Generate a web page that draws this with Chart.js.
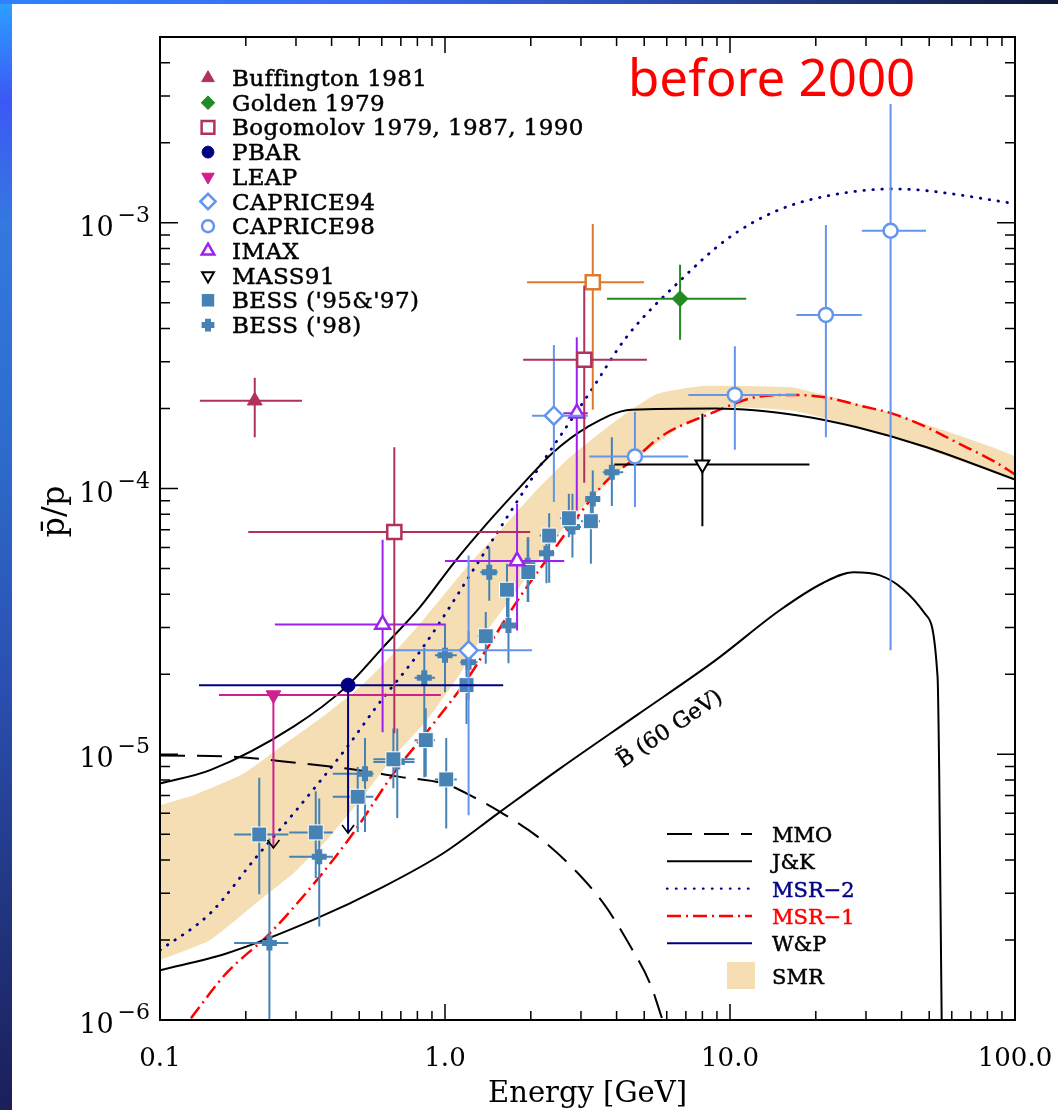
<!DOCTYPE html>
<html lang="en">
<head>
<meta charset="UTF-8">
<title>Antiproton / proton ratio</title>
<script src="https://cdn.jsdelivr.net/npm/chart.js"></script>
<style>
    html, body { margin: 0; padding: 0; }
    body {
        width: 1058px;
        height: 1110px;
        position: relative;
        overflow: hidden;
        background: linear-gradient(180deg, #2aa2ff 0%, #3d58f5 9%, #3478e0 20%, #2d6ccc 40%, #2a4fb0 62%, #21357f 82%, #1b1f5a 100%);
    }
    .topband {
        position: absolute; left: 0; top: 0; right: 0; height: 4px;
        background: linear-gradient(90deg, #2d82ff 0%, #3a6cf2 35%, #2a4aa8 65%, #0f1838 100%);
    }
    .sheet { position: absolute; left: 12px; top: 4px; right: 0; bottom: 0; background: #fff; }
    #chart { position: absolute; left: 0; top: 0; }
</style>
</head>
<body>
<div class="topband"></div>
<div class="sheet"></div>
<canvas id="chart" width="1058" height="1110"></canvas>
<script>
// measurements: [energy GeV, pbar/p, energy low, energy high, ratio low, ratio high]
const buffington = [[0.215, 2.14e-4, 0.138, 0.315, 1.56e-4, 2.61e-4]];
const golden = [[6.68, 5.18e-4, 3.70, 11.4, 3.63e-4, 6.95e-4]];
const bogomolov = [
    [0.664, 6.86e-5, 0.204, 1.99, 1.2e-5, 1.43e-4],
    [3.08, 3.05e-4, 1.88, 5.11, 1.05e-4, 5.80e-4]
];
const bogomolov90 = [[3.30, 5.97e-4, 1.94, 4.99, 1.98e-4, 9.9e-4]];
const pbar = [[0.457, 1.82e-5, 0.137, 1.60, 5.05e-6, 1.82e-5]];
const leap = [[0.25, 1.67e-5, 0.161, 0.967, 4.44e-6, 1.67e-5]];
const caprice94 = [
    [2.41, 1.88e-4, 2.02, 3.17, 8.89e-5, 3.47e-4],
    [1.21, 2.46e-5, 0.606, 2.02, 5.9e-6, 5.6e-5]
];
const caprice98 = [
    [4.64, 1.32e-4, 3.21, 7.14, 8.51e-5, 1.94e-4],
    [10.4, 2.25e-4, 7.14, 17.1, 1.40e-4, 3.43e-4],
    [21.7, 4.50e-4, 17.1, 29.0, 1.56e-4, 9.8e-4],
    [36.6, 9.33e-4, 29.0, 48.7, 2.46e-5, 2.8e-3]
];
const imax = [
    [0.604, 3.08e-5, 0.253, 1.0, 1.21e-5, 6.41e-5],
    [1.79, 5.33e-5, 1.0, 2.62, 2.92e-5, 8.75e-5],
    [2.90, 1.92e-4, 2.60, 3.17, 8.26e-5, 3.71e-4]
];
const mass91 = [[8.0, 1.23e-4, 3.93, 19.0, 7.21e-5, 1.91e-4]];
const bess9597 = [
    [0.223, 4.99e-6, 0.182, 0.282, 2.97e-6, 8.15e-6],
    [0.352, 5.08e-6, 0.284, 0.404, 3.42e-6, 7.26e-6],
    [0.494, 6.92e-6, 0.404, 0.561, 5.1e-6, 8.96e-6],
    [0.659, 9.57e-6, 0.561, 0.782, 7.45e-6, 1.25e-5],
    [0.856, 1.13e-5, 0.782, 0.922, 8.22e-6, 1.49e-5],
    [1.01, 8.04e-6, 0.922, 1.10, 5.26e-6, 1.15e-5],
    [1.19, 1.82e-5, 1.12, 1.27, 1.3e-5, 2.6e-5],
    [1.39, 2.78e-5, 1.30, 1.49, 2.19e-5, 3.43e-5],
    [1.65, 4.16e-5, 1.57, 1.76, 3.28e-5, 5.21e-5],
    [1.96, 4.85e-5, 1.85, 2.08, 3.74e-5, 6.56e-5],
    [2.32, 6.65e-5, 2.15, 2.50, 4.42e-5, 8.07e-5],
    [2.72, 7.73e-5, 2.53, 2.96, 6.56e-5, 9.55e-5],
    [3.25, 7.53e-5, 3.0, 3.5, 5.21e-5, 9.27e-5]
];
const bess98 = [
    [0.242, 1.95e-6, 0.182, 0.282, 5e-7, 4.82e-6],
    [0.362, 4.11e-6, 0.284, 0.404, 2.25e-6, 6.81e-6],
    [0.524, 8.45e-6, 0.404, 0.561, 5.1e-6, 1.15e-5],
    [0.680, 9.35e-6, 0.561, 0.782, 5.75e-6, 1.25e-5],
    [0.846, 1.94e-5, 0.782, 0.922, 8.2e-6, 2.51e-5],
    [1.0, 2.36e-5, 0.922, 1.10, 1.71e-5, 3.1e-5],
    [1.21, 2.22e-5, 1.13, 1.30, 1.6e-5, 2.9e-5],
    [1.43, 4.84e-5, 1.33, 1.53, 3.78e-5, 6.0e-5],
    [1.67, 3.05e-5, 1.57, 1.77, 2.2e-5, 4.2e-5],
    [1.95, 5.14e-5, 1.84, 2.07, 3.74e-5, 6.56e-5],
    [2.27, 5.71e-5, 2.14, 2.42, 4.4e-5, 6.2e-5],
    [2.80, 7.16e-5, 2.61, 3.0, 5.5e-5, 9.55e-5],
    [3.30, 9.14e-5, 3.12, 3.50, 8.07e-5, 1.17e-4],
    [3.85, 1.15e-4, 3.58, 4.22, 8.6e-5, 1.56e-4]
];

// model curves: [energy GeV, pbar/p]
const mmo = [[0.1, 9.9e-6], [0.186, 9.77e-6], [0.302, 9.28e-6], [0.452, 8.83e-6], [0.695, 8.22e-6],
    [1.01, 7.71e-6], [1.26, 6.9e-6], [1.56, 6.07e-6], [2.15, 4.83e-6], [2.86, 3.66e-6], [3.63, 2.71e-6],
    [4.45, 1.91e-6], [5.26, 1.36e-6], [5.80, 1.0e-6], [6.05, 8.8e-7]];
const jkUpper = [[0.1, 7.76e-6], [0.15, 8.71e-6], [0.294, 1.27e-5], [0.457, 1.82e-5], [0.607, 2.53e-5],
    [0.817, 3.58e-5], [1.068, 5.21e-5], [1.40, 7.36e-5], [1.83, 1.01e-4], [2.40, 1.37e-4], [3.15, 1.70e-4],
    [4.51, 1.98e-4], [8.95, 2.00e-4], [17.6, 1.88e-4], [27.9, 1.70e-4], [49.0, 1.43e-4], [100, 1.08e-4]];
const jkLower = [[0.1, 1.54e-6], [0.171, 1.78e-6], [0.345, 2.38e-6], [0.607, 3.17e-6], [0.986, 4.24e-6],
    [1.56, 6.07e-6], [2.53, 8.83e-6], [4.74, 1.41e-5], [8.86, 2.25e-5], [15.0, 3.49e-5], [21.2, 4.41e-5],
    [27.1, 4.84e-5], [33.6, 4.71e-5], [40.5, 4.18e-5], [48.3, 3.38e-5], [53.5, 1.95e-5], [54.2, 8.58e-6],
    [55.3, 1e-6], [55.5, 5e-7]];
const msr2 = [[0.1, 1.83e-6], [0.15, 2.52e-6], [0.218, 4.11e-6], [0.294, 5.98e-6], [0.452, 1.06e-5],
    [0.575, 1.51e-5], [0.829, 2.49e-5], [1.33, 5.43e-5], [2.15, 1.21e-4], [3.24, 2.32e-4], [4.33, 3.71e-4],
    [6.68, 6.05e-4], [9.78, 8.69e-4], [14.6, 1.11e-3], [21.8, 1.26e-3], [37.4, 1.34e-3], [49.0, 1.32e-3],
    [100, 1.18e-3]];
const msr1 = [[0.113, 8.5e-7], [0.127, 1e-6], [0.171, 1.50e-6], [0.243, 2.12e-6], [0.355, 3.36e-6],
    [0.476, 5.04e-6], [0.659, 8.45e-6], [0.909, 1.30e-5], [1.19, 1.90e-5], [1.44, 2.61e-5], [1.83, 3.90e-5],
    [2.40, 5.85e-5], [2.97, 8.03e-5], [3.70, 1.07e-4], [4.70, 1.31e-4], [5.68, 1.56e-4], [8.51, 1.91e-4],
    [12.7, 2.22e-4], [16.7, 2.25e-4], [21.8, 2.20e-4], [28.6, 2.05e-4], [37.4, 1.91e-4], [49.0, 1.70e-4],
    [64.1, 1.47e-4], [83.9, 1.27e-4], [100, 1.13e-4]];
const smrUpper = [[0.1, 6.43e-6], [0.131, 7.01e-6], [0.196, 8.45e-6], [0.257, 1.04e-5], [0.384, 1.42e-5],
    [0.503, 1.79e-5], [0.624, 2.25e-5], [0.817, 3.10e-5], [1.22, 5.21e-5], [1.60, 7.14e-5], [2.09, 9.82e-5],
    [2.74, 1.31e-4], [3.58, 1.65e-4], [4.45, 1.96e-4], [5.54, 2.27e-4], [8.07, 2.43e-4], [16.7, 2.40e-4],
    [19.6, 2.30e-4], [37.4, 1.91e-4], [100, 1.32e-4]];
const smrLower = [[0.1, 1.68e-6], [0.15, 2.0e-6], [0.224, 2.83e-6], [0.294, 3.57e-6], [0.384, 4.75e-6],
    [0.503, 6.71e-6], [0.659, 9.77e-6], [0.862, 1.34e-5], [1.13, 2.01e-5], [1.33, 2.69e-5], [1.83, 4.28e-5],
    [2.40, 6.38e-5], [3.15, 8.85e-5], [4.12, 1.17e-4], [5.68, 1.51e-4], [7.22, 1.80e-4], [9.2, 2.02e-4],
    [16.7, 1.96e-4], [37.4, 1.56e-4], [100, 1.09e-4]];

const xTicks = [0.1, 1, 10, 100];
const xTickLabels = ['0.1', '1.0', '10.0', '100.0'];
const yDecades = [-6, -5, -4, -3];

const SERIF = '"DejaVu Serif", "Liberation Serif", serif';
const X_MIN = 0.1, X_MAX = 100, Y_MIN = 1e-6, Y_MAX = 5e-3;

function withErrors(rows) {
    return rows.map(([x, y, xLo, xHi, yLo, yHi]) => ({ x, y, xLo, xHi, yLo, yHi }));
}
function xy(rows) {
    return rows.map(([x, y]) => ({ x, y }));
}

function markers(label, rows, opts) {
    return Object.assign({
        label: label,
        data: withErrors(rows),
        showLine: false,
        order: 1,
        pointRotation: 0,
        pointBorderWidth: 2,
        inLegend: true
    }, opts);
}

function curve(label, rows, color, dash, width, extra) {
    return Object.assign({
        label: label,
        data: xy(rows),
        showLine: true,
        borderColor: color,
        borderWidth: width,
        borderDash: dash,
        pointRadius: 0,
        fill: false,
        cubicInterpolationMode: 'monotone',
        order: 5
    }, extra || {});
}

const datasets = [
    markers('Buffington 1981', buffington, { pointStyle: 'triangle', pointRadius: 8.5, pointBackgroundColor: '#b03060', pointBorderColor: '#b03060', pointBorderWidth: 1, barColor: '#b03060' }),
    markers('Golden 1979', golden, { pointStyle: 'rectRot', pointRadius: 8, pointBackgroundColor: '#228b22', pointBorderColor: '#228b22', pointBorderWidth: 1, barColor: '#228b22' }),
    markers('Bogomolov 1979, 1987, 1990', bogomolov, { pointStyle: 'rect', pointRadius: 10, pointBackgroundColor: '#ffffff', pointBorderColor: '#b03060', pointBorderWidth: 2.5, barColor: '#b03060' }),
    markers('Bogomolov 1990', bogomolov90, { pointStyle: 'rect', pointRadius: 10, pointBackgroundColor: '#ffffff', pointBorderColor: '#dd7a30', pointBorderWidth: 2.5, barColor: '#dd7a30', inLegend: false }),
    markers('PBAR', pbar, { pointStyle: 'circle', pointRadius: 7, pointBackgroundColor: '#000080', pointBorderColor: '#000080', pointBorderWidth: 1, barColor: '#000080', arrow: true }),
    markers('LEAP', leap, { pointStyle: 'triangle', pointRotation: 180, pointRadius: 8.5, pointBackgroundColor: '#d02090', pointBorderColor: '#d02090', pointBorderWidth: 1, barColor: '#d02090', arrow: true }),
    markers('CAPRICE94', caprice94, { pointStyle: 'rectRot', pointRadius: 9, pointBackgroundColor: '#ffffff', pointBorderColor: '#6495ed', pointBorderWidth: 2.5, barColor: '#6495ed' }),
    markers('CAPRICE98', caprice98, { pointStyle: 'circle', pointRadius: 7, pointBackgroundColor: '#ffffff', pointBorderColor: '#6495ed', pointBorderWidth: 2.5, barColor: '#6495ed' }),
    markers('IMAX', imax, { pointStyle: 'triangle', pointRadius: 8.5, pointBackgroundColor: '#ffffff', pointBorderColor: '#a020f0', pointBorderWidth: 2.5, barColor: '#a020f0' }),
    markers('MASS91', mass91, { pointStyle: 'triangle', pointRotation: 180, pointRadius: 8, pointBackgroundColor: '#ffffff', pointBorderColor: '#000000', pointBorderWidth: 2, barColor: '#000000' }),
    markers("BESS ('95&'97)", bess9597, { pointStyle: 'rect', pointRadius: 10.6, pointBackgroundColor: '#4682b4', pointBorderColor: '#ffffff', pointBorderWidth: 1, barColor: '#4682b4' }),
    markers("BESS ('98)", bess98, { pointStyle: 'cross', pointRadius: 7.5, pointBackgroundColor: '#4682b4', pointBorderColor: '#4682b4', pointBorderWidth: 6, barColor: '#4682b4' }),

    curve('MMO', mmo, '#000000', [25, 12], 2),
    curve('J&K', jkUpper, '#000000', [], 2),
    curve('J&K 60 GeV', jkLower, '#000000', [], 2),
    curve('MSR-2', msr2, '#00008b', [0.5, 8.5], 2.8, { borderCapStyle: 'round' }),
    curve('MSR-1', msr1, '#ff0000', [14, 5, 2, 5], 2.5),
    {
        label: 'SMR',
        data: xy(smrUpper.concat(smrLower.slice().reverse())),
        showLine: true,
        borderWidth: 0,
        borderColor: 'rgba(0,0,0,0)',
        backgroundColor: '#f5deb3',
        fill: 'shape',
        pointRadius: 0,
        tension: 0.15,
        order: 10
    }
];

// lower-right key for the model curves
const curveKey = [
    { label: 'MMO', color: '#000000', dash: [25, 12], width: 2, text: '#000000' },
    { label: 'J&K', color: '#000000', dash: [], width: 2, text: '#000000' },
    { label: 'MSR\u22122', color: '#00008b', dash: [0.5, 8.5], width: 2.4, cap: 'round', text: '#00008b' },
    { label: 'MSR\u22121', color: '#ff0000', dash: [14, 5, 2, 5], width: 2.5, text: '#ff0000' },
    { label: 'W&P', color: '#000080', dash: [], width: 2, text: '#000000' }
];

// slightly heavier serif text, closer to the plot's typeface
function heavyText(ctx, txt, x, y, w) {
    ctx.fillText(txt, x, y);
    ctx.lineWidth = w;
    ctx.strokeStyle = ctx.fillStyle;
    ctx.strokeText(txt, x, y);
}

// error bars under each marker set
const errorBars = {
    id: 'errorBars',
    beforeDatasetDraw(chart, args) {
        const ds = chart.data.datasets[args.index];
        if (!ds.barColor) return;
        const { ctx, chartArea, scales: { x, y } } = chart;
        ctx.save();
        ctx.beginPath();
        ctx.rect(chartArea.left, chartArea.top, chartArea.width, chartArea.height);
        ctx.clip();
        ds.data.forEach(p => {
            const px = x.getPixelForValue(p.x);
            const py = y.getPixelForValue(p.y);
            ctx.strokeStyle = ds.barColor;
            ctx.lineWidth = 2;
            ctx.beginPath();
            ctx.moveTo(x.getPixelForValue(p.xLo), py);
            ctx.lineTo(x.getPixelForValue(p.xHi), py);
            ctx.moveTo(px, y.getPixelForValue(p.yLo));
            ctx.lineTo(px, y.getPixelForValue(p.yHi));
            ctx.stroke();
            if (ds.arrow) {
                const tip = y.getPixelForValue(p.yLo);
                ctx.strokeStyle = '#000';
                ctx.lineWidth = 1.6;
                ctx.beginPath();
                ctx.moveTo(px - 6, tip - 8);
                ctx.lineTo(px, tip);
                ctx.lineTo(px + 6, tip - 8);
                ctx.stroke();
            }
        });
        ctx.restore();
    }
};

// frame with inward ticks on all four sides, tick labels and axis titles
const frameAxes = {
    id: 'frameAxes',
    afterDatasetsDraw(chart) {
        const { ctx, chartArea: a, scales: { x, y } } = chart;
        ctx.save();
        ctx.strokeStyle = '#000';
        ctx.lineWidth = 1.5;
        ctx.beginPath();
        for (let d = 0; d < xTicks.length; d++) {
            const dec = xTicks[d];
            const px = x.getPixelForValue(dec);
            ctx.moveTo(px, a.bottom); ctx.lineTo(px, a.bottom - 16);
            ctx.moveTo(px, a.top); ctx.lineTo(px, a.top + 16);
            if (dec >= X_MAX) continue;
            for (let k = 2; k <= 9; k++) {
                const mx = x.getPixelForValue(dec * k);
                ctx.moveTo(mx, a.bottom); ctx.lineTo(mx, a.bottom - 9);
                ctx.moveTo(mx, a.top); ctx.lineTo(mx, a.top + 9);
            }
        }
        yDecades.forEach(e => {
            const dec = Math.pow(10, e);
            const py = y.getPixelForValue(dec);
            ctx.moveTo(a.left, py); ctx.lineTo(a.left + 18, py);
            ctx.moveTo(a.right, py); ctx.lineTo(a.right - 18, py);
            for (let k = 2; k <= 9; k++) {
                if (dec * k >= Y_MAX * 0.999) break;
                const my = y.getPixelForValue(dec * k);
                ctx.moveTo(a.left, my); ctx.lineTo(a.left + 10, my);
                ctx.moveTo(a.right, my); ctx.lineTo(a.right - 10, my);
            }
        });
        ctx.stroke();

        ctx.lineWidth = 2;
        ctx.strokeRect(a.left, a.top, a.width, a.height);

        ctx.fillStyle = '#000';
        ctx.textBaseline = 'alphabetic';
        ctx.textAlign = 'center';
        ctx.font = '26px ' + SERIF;
        xTicks.forEach((v, i) => {
            ctx.fillText(xTickLabels[i], x.getPixelForValue(v), a.bottom + 46);
        });

        yDecades.forEach(e => {
            const py = y.getPixelForValue(Math.pow(10, e));
            const expTxt = '\u2212' + Math.abs(e);
            ctx.textAlign = 'right';
            ctx.font = '22px ' + SERIF;
            const ew = ctx.measureText(expTxt).width;
            ctx.fillText(expTxt, a.left - 10, py - 1);
            ctx.font = '27px ' + SERIF;
            ctx.fillText('10', a.left - 14 - ew, py + 13);
        });

        ctx.textAlign = 'center';
        ctx.font = '29px ' + SERIF;
        ctx.fillText('Energy [GeV]', (a.left + a.right) / 2, a.bottom + 82);

        ctx.save();
        ctx.translate(64, (a.top + a.bottom) / 2 - 17);
        ctx.rotate(-Math.PI / 2);
        ctx.font = '32px ' + SERIF;
        ctx.fillText('p\u0304/p', 0, 0);
        ctx.restore();
        ctx.restore();
    }
};

// marker key (top left), curve key (bottom right) and text labels
const keysAndNotes = {
    id: 'keysAndNotes',
    afterDraw(chart) {
        const { ctx, chartArea: a, scales: { x, y } } = chart;
        ctx.save();

        let row = 0;
        chart.data.datasets.forEach(ds => {
            if (!ds.barColor || !ds.inLegend) return;
            const cy = a.top + 41 + row * 24.7;
            ctx.save();
            ctx.fillStyle = ds.pointBackgroundColor;
            ctx.strokeStyle = ds.pointBorderColor;
            ctx.lineWidth = ds.pointBorderWidth;
            const r = ds.pointStyle === 'rect' ? ds.pointRadius * 0.9 : ds.pointRadius * 0.85;
            Chart.helpers.drawPoint(ctx, {
                pointStyle: ds.pointStyle, radius: r,
                rotation: ds.pointRotation || 0, borderWidth: ds.pointBorderWidth
            }, a.left + 48, cy);
            ctx.restore();
            ctx.fillStyle = '#000';
            ctx.font = '23px ' + SERIF;
            ctx.letterSpacing = '0.4px';
            ctx.textAlign = 'left';
            ctx.textBaseline = 'alphabetic';
            heavyText(ctx, ds.label, a.left + 72, cy + 8, 0.5);
            ctx.letterSpacing = '0px';
            row++;
        });

        const x0 = 667, x1 = 752, tx = 772;
        curveKey.forEach((k, i) => {
            const cy = 834 + i * 27.3;
            ctx.save();
            ctx.strokeStyle = k.color;
            ctx.lineWidth = k.width;
            ctx.lineCap = k.cap || 'butt';
            ctx.setLineDash(k.dash);
            ctx.beginPath();
            ctx.moveTo(x0, cy);
            ctx.lineTo(x1, cy);
            ctx.stroke();
            ctx.restore();
            ctx.fillStyle = k.text;
            ctx.font = '21px ' + SERIF;
            ctx.textAlign = 'left';
            heavyText(ctx, k.label, tx, cy + 8, 0.5);
        });
        ctx.fillStyle = '#f5deb3';
        ctx.fillRect(727, 962, 28, 27);
        ctx.fillStyle = '#000';
        heavyText(ctx, 'SMR', tx, 984, 0.5);

        // label along the lower J&K curve
        ctx.save();
        ctx.translate(x.getPixelForValue(6.1), y.getPixelForValue(1.26e-5));
        ctx.rotate(-34 * Math.PI / 180);
        ctx.font = '22px ' + SERIF;
        ctx.textAlign = 'center';
        ctx.fillStyle = '#000';
        heavyText(ctx, 'B\u0303 (60 GeV)', 0, 8, 0.4);
        ctx.restore();

        ctx.fillStyle = '#ff0000';
        ctx.font = '51px "Noto Sans", "Open Sans", sans-serif';
        ctx.textAlign = 'left';
        ctx.fillText('before 2000', 628, 96);

        ctx.restore();
    }
};

new Chart(document.getElementById('chart'), {
    type: 'line',
    data: { datasets: datasets },
    options: {
        responsive: false,
        animation: false,
        devicePixelRatio: 1,
        events: [],
        layout: { padding: { left: 160, top: 37, right: 43, bottom: 90 } },
        plugins: {
            legend: { display: false },
            tooltip: { enabled: false },
            title: { display: false }
        },
        scales: {
            x: { type: 'logarithmic', min: X_MIN, max: X_MAX, display: false },
            y: { type: 'logarithmic', min: Y_MIN, max: Y_MAX, display: false }
        }
    },
    plugins: [errorBars, frameAxes, keysAndNotes]
});
</script>
</body>
</html>
